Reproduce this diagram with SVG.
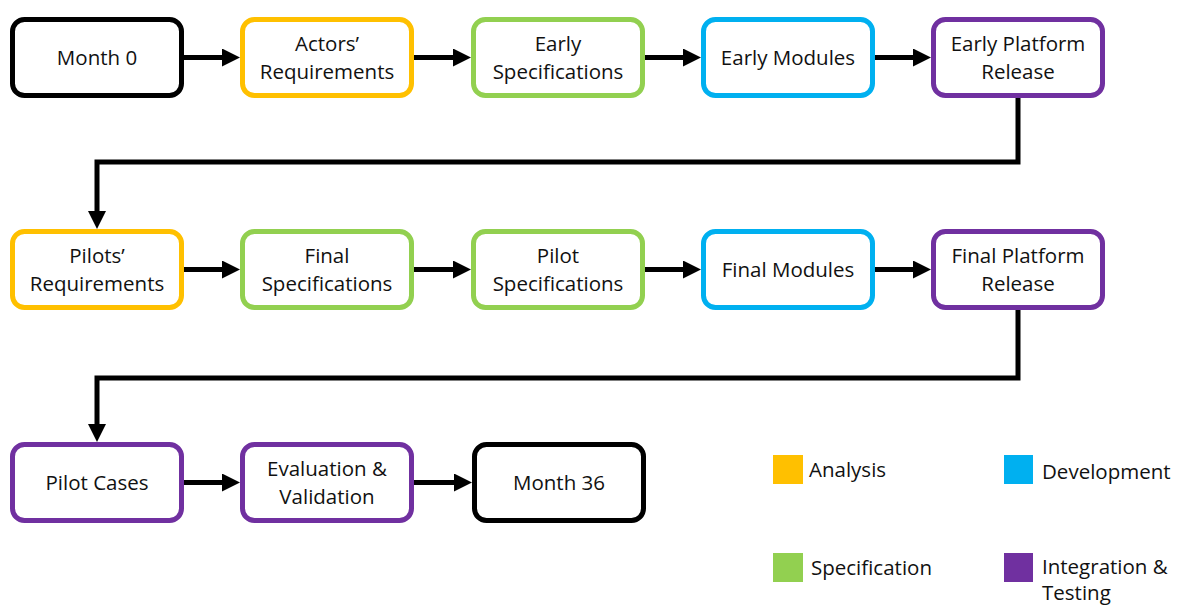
<svg xmlns="http://www.w3.org/2000/svg" width="1180" height="606" viewBox="0 0 1180 606">
  <style>
    .box { fill: #ffffff; stroke-width: 5; }
    .k { stroke: #000000; }
    .a { stroke: #FFC000; }
    .s { stroke: #92D050; }
    .d { stroke: #00B0F0; }
    .i { stroke: #7030A0; }
    .lbl { font-family: "Open Sans", "Noto Sans", sans-serif; font-size: 20.5px; fill: #111111; text-anchor: middle; }
    .leg { font-family: "Open Sans", "Noto Sans", sans-serif; font-size: 20.5px; fill: #111111; }
    .conn { fill: none; stroke: #000000; stroke-width: 5; stroke-linejoin: miter; marker-end: url(#head); }
  </style>
  <defs>
    <marker id="head" markerUnits="userSpaceOnUse" markerWidth="18" markerHeight="18" refX="0" refY="9" orient="auto">
      <path d="M0,0 L18,9 L0,18 Z" fill="#000000"/>
    </marker>
  </defs>
  <rect width="1180" height="606" fill="#ffffff"/>

  <!-- connectors -->
  <g id="connectors">
    <line class="conn" x1="184" y1="57.5" x2="222" y2="57.5"/>
    <line class="conn" x1="414" y1="57.5" x2="453" y2="57.5"/>
    <line class="conn" x1="645" y1="57.5" x2="683" y2="57.5"/>
    <line class="conn" x1="875" y1="57.5" x2="913" y2="57.5"/>
    <polyline class="conn" points="1018,98 1018,162 97,162 97,211"/>
    <line class="conn" x1="184" y1="269.5" x2="222" y2="269.5"/>
    <line class="conn" x1="414" y1="269.5" x2="453" y2="269.5"/>
    <line class="conn" x1="645" y1="269.5" x2="683" y2="269.5"/>
    <line class="conn" x1="875" y1="269.5" x2="913" y2="269.5"/>
    <polyline class="conn" points="1018,310 1018,378 97,378 97,424"/>
    <line class="conn" x1="184" y1="482.5" x2="222" y2="482.5"/>
    <line class="conn" x1="414" y1="482.5" x2="454" y2="482.5"/>
  </g>

  <!-- row 1 -->
  <g id="month0">
    <rect class="box k" x="12.5" y="19.5" width="169" height="76" rx="12"/>
    <text class="lbl" x="97" y="64.5">Month 0</text>
  </g>
  <g id="actors-requirements">
    <rect class="box a" x="242.5" y="19.5" width="169" height="76" rx="12"/>
    <text class="lbl" x="327" y="51">Actors’</text>
    <text class="lbl" x="327" y="79">Requirements</text>
  </g>
  <g id="early-specifications">
    <rect class="box s" x="473.5" y="19.5" width="169" height="76" rx="12"/>
    <text class="lbl" x="558" y="51">Early</text>
    <text class="lbl" x="558" y="79">Specifications</text>
  </g>
  <g id="early-modules">
    <rect class="box d" x="703.5" y="19.5" width="169" height="76" rx="12"/>
    <text class="lbl" x="788" y="64.5">Early Modules</text>
  </g>
  <g id="early-platform-release">
    <rect class="box i" x="933.5" y="19.5" width="169" height="76" rx="12"/>
    <text class="lbl" x="1018" y="51">Early Platform</text>
    <text class="lbl" x="1018" y="79">Release</text>
  </g>

  <!-- row 2 -->
  <g id="pilots-requirements">
    <rect class="box a" x="12.5" y="231.5" width="169" height="76" rx="12"/>
    <text class="lbl" x="97" y="263">Pilots’</text>
    <text class="lbl" x="97" y="291">Requirements</text>
  </g>
  <g id="final-specifications">
    <rect class="box s" x="242.5" y="231.5" width="169" height="76" rx="12"/>
    <text class="lbl" x="327" y="263">Final</text>
    <text class="lbl" x="327" y="291">Specifications</text>
  </g>
  <g id="pilot-specifications">
    <rect class="box s" x="473.5" y="231.5" width="169" height="76" rx="12"/>
    <text class="lbl" x="558" y="263">Pilot</text>
    <text class="lbl" x="558" y="291">Specifications</text>
  </g>
  <g id="final-modules">
    <rect class="box d" x="703.5" y="231.5" width="169" height="76" rx="12"/>
    <text class="lbl" x="788" y="276.5">Final Modules</text>
  </g>
  <g id="final-platform-release">
    <rect class="box i" x="933.5" y="231.5" width="169" height="76" rx="12"/>
    <text class="lbl" x="1018" y="263">Final Platform</text>
    <text class="lbl" x="1018" y="291">Release</text>
  </g>

  <!-- row 3 -->
  <g id="pilot-cases">
    <rect class="box i" x="12.5" y="444.5" width="169" height="76" rx="12"/>
    <text class="lbl" x="97" y="489.5">Pilot Cases</text>
  </g>
  <g id="evaluation-validation">
    <rect class="box i" x="242.5" y="444.5" width="169" height="76" rx="12"/>
    <text class="lbl" x="327" y="476">Evaluation &amp;</text>
    <text class="lbl" x="327" y="504">Validation</text>
  </g>
  <g id="month36">
    <rect class="box k" x="474.5" y="444.5" width="169" height="76" rx="12"/>
    <text class="lbl" x="559" y="489.5">Month 36</text>
  </g>

  <!-- legend -->
  <g id="legend">
    <rect x="773" y="455" width="30" height="29" fill="#FFC000"/>
    <text class="leg" x="809" y="477">Analysis</text>
    <rect x="1004" y="455" width="29" height="29" fill="#00B0F0"/>
    <text class="leg" x="1042" y="479">Development</text>
    <rect x="773" y="553" width="30" height="29" fill="#92D050"/>
    <text class="leg" x="811" y="575">Specification</text>
    <rect x="1004" y="553" width="29" height="29" fill="#7030A0"/>
    <text class="leg" x="1042" y="574">Integration &amp;</text>
    <text class="leg" x="1042" y="600">Testing</text>
  </g>
</svg>
